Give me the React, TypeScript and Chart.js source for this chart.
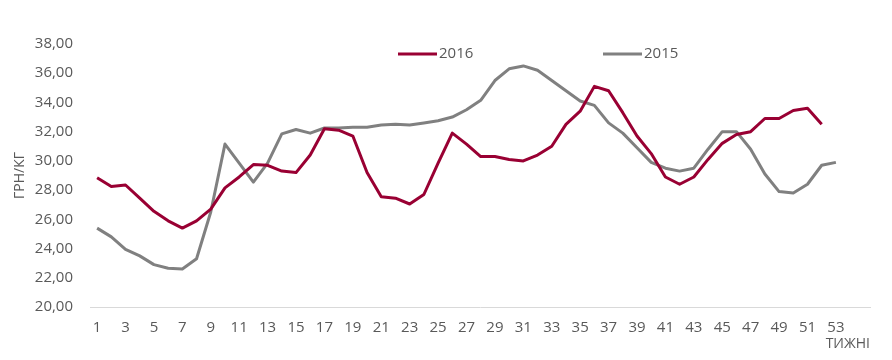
import React, { useEffect, useRef } from "react";
import { Chart, registerables } from "chart.js";

Chart.register(...registerables);

const weeks2016 = [1, 2, 3, 4, 5, 6, 7, 8, 9, 10, 11, 12, 13, 14, 15, 16, 17, 18, 19, 20, 21, 22, 23, 24, 25, 26, 27, 28, 29, 30, 31, 32, 33, 34, 35, 36, 37, 38, 39, 40, 41, 42, 43, 44, 45, 46, 47, 48, 49, 50, 51, 52];
const weeks2015 = [1, 2, 3, 4, 5, 6, 7, 8, 9, 10, 11, 12, 13, 14, 15, 16, 17, 18, 19, 20, 21, 22, 23, 24, 25, 26, 27, 28, 29, 30, 31, 32, 33, 34, 35, 36, 37, 38, 39, 40, 41, 42, 43, 44, 45, 46, 47, 48, 49, 50, 51, 52, 53];
const tickWeeks = [1, 3, 5, 7, 9, 11, 13, 15, 17, 19, 21, 23, 25, 27, 29, 31, 33, 35, 37, 39, 41, 43, 45, 47, 49, 51, 53];

const values2016 = [
  28.85, 28.25, 28.35, 27.45, 26.55, 25.9, 25.4, 25.9, 26.7, 28.15,
  28.9, 29.75, 29.7, 29.3, 29.2, 30.4, 32.2, 32.1, 31.7, 29.2,
  27.55, 27.45, 27.05, 27.7, 29.85, 31.9, 31.15, 30.3, 30.3, 30.1,
  30.0, 30.4, 31.0, 32.5, 33.4, 35.1, 34.8, 33.3, 31.7, 30.5,
  28.9, 28.4, 28.9, 30.1, 31.2, 31.8, 32.0, 32.9, 32.9, 33.45,
  33.6, 32.5,
];
const values2015 = [
  25.4, 24.8, 23.95, 23.5, 22.9, 22.65, 22.6, 23.3, 26.5, 31.15,
  29.85, 28.55, 29.85, 31.85, 32.15, 31.9, 32.25, 32.25, 32.3, 32.3,
  32.45, 32.5, 32.45, 32.6, 32.75, 33.0, 33.5, 34.15, 35.5, 36.3,
  36.5, 36.2, 35.5, 34.8, 34.1, 33.8, 32.6, 31.9, 30.9, 29.9,
  29.5, 29.3, 29.5, 30.8, 32.0, 32.0, 30.8, 29.1, 27.9, 27.8,
  28.4, 29.7, 29.9,
];

const seriesLabels = ["2016", "2015"];
const yTitle = "ГРН/КГ";
const xTitle = "ТИЖНІ";

const RED = "#990033";
const GRAY = "#808080";
const TEXT = "#595959";
const FONT = "'Open Sans', 'Noto Sans', sans-serif";

const legendPlugin = {
  id: "floatingLegend",
  afterDraw(chart: any) {
    const ctx = chart.ctx;
    const starts = [398, 603];
    const y = 54;
    ctx.save();
    chart.data.datasets.forEach((ds: any, i: number) => {
      const x0 = starts[i];
      ctx.strokeStyle = ds.borderColor;
      ctx.lineWidth = 3;
      ctx.lineCap = "butt";
      ctx.beginPath();
      ctx.moveTo(x0, y);
      ctx.lineTo(x0 + 39, y);
      ctx.stroke();
      ctx.fillStyle = TEXT;
      ctx.font = `15px ${FONT}`;
      ctx.textAlign = "left";
      ctx.textBaseline = "middle";
      ctx.fillText(ds.label, x0 + 41, y);
    });
    ctx.restore();
  },
};

export default function App() {
  const ref = useRef<HTMLCanvasElement | null>(null);

  useEffect(() => {
    if (!ref.current) return;
    const chart = new Chart(ref.current, {
      type: "line",
      data: {
        datasets: [
          {
            label: seriesLabels[0],
            data: weeks2016.map((w, i) => ({ x: w, y: values2016[i] })),
            borderColor: RED,
            backgroundColor: RED,
            borderWidth: 3,
            pointRadius: 0,
            tension: 0,
            borderJoinStyle: "round",
          },
          {
            label: seriesLabels[1],
            data: weeks2015.map((w, i) => ({ x: w, y: values2015[i] })),
            borderColor: GRAY,
            backgroundColor: GRAY,
            borderWidth: 3,
            pointRadius: 0,
            tension: 0,
            borderJoinStyle: "round",
          },
        ],
      },
      options: {
        responsive: false,
        animation: false,
        layout: { padding: { left: 0, right: 22, top: 44, bottom: 8 } },
        plugins: {
          legend: { display: false },
          tooltip: { enabled: false },
        },
        scales: {
          x: {
            type: "linear",
            min: 0.5,
            max: 55.4,
            grid: { display: false, drawTicks: false },
            border: { display: true, color: "#d9d9d9", width: 1 },
            afterBuildTicks: (scale: any) => {
              scale.ticks = tickWeeks.map((v) => ({ value: v }));
            },
            afterFit: (scale: any) => {
              scale.height = 45;
            },
            ticks: {
              autoSkip: false,
              maxRotation: 0,
              padding: 12,
              color: TEXT,
              font: { family: FONT, size: 15 },
              callback: (v: any) => String(v),
            },
            title: {
              display: true,
              text: xTitle,
              align: "end",
              color: TEXT,
              font: { family: FONT, size: 14 },
              padding: { top: 0, bottom: 0 },
            },
          },
          y: {
            min: 20,
            max: 38,
            grid: { display: false, drawTicks: false },
            border: { display: false },
            afterFit: (scale: any) => {
              scale.width = 90;
            },
            ticks: {
              stepSize: 2,
              padding: 17,
              color: TEXT,
              font: { family: FONT, size: 15 },
              callback: (v: any) => Number(v).toFixed(2).replace(".", ","),
            },
            title: {
              display: true,
              text: yTitle,
              color: TEXT,
              font: { family: FONT, size: 14 },
              padding: { top: 12, bottom: 0 },
            },
          },
        },
      },
      plugins: [legendPlugin],
    } as any);
    return () => chart.destroy();
  }, []);

  return (
    <div style={{ position: "fixed", left: 0, top: 0, width: 892, height: 360, background: "#fff" }}>
      <canvas ref={ref} width={892} height={360} style={{ display: "block" }} />
    </div>
  );
}
